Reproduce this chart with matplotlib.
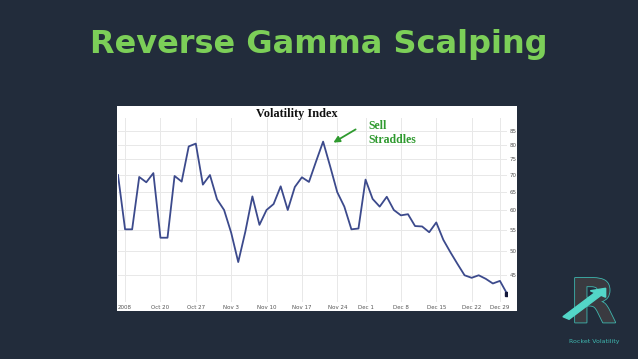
import numpy as np
import matplotlib
matplotlib.use('Agg')
import matplotlib.pyplot as plt
from matplotlib.patches import Rectangle, FancyArrow
import matplotlib.patheffects as pe

# trading days shown on the chart (Oct 10 -> Dec 30, 2008)
days = ['Oct 10', 'Oct 13', 'Oct 14', 'Oct 15', 'Oct 16', 'Oct 17',
        'Oct 20', 'Oct 21', 'Oct 22', 'Oct 23', 'Oct 24',
        'Oct 27', 'Oct 28', 'Oct 29', 'Oct 30', 'Oct 31',
        'Nov 3', 'Nov 4', 'Nov 5', 'Nov 6', 'Nov 7',
        'Nov 10', 'Nov 11', 'Nov 12', 'Nov 13', 'Nov 14',
        'Nov 17', 'Nov 18', 'Nov 19', 'Nov 20', 'Nov 21',
        'Nov 24', 'Nov 25', 'Nov 26', 'Nov 28',
        'Dec 1', 'Dec 2', 'Dec 3', 'Dec 4', 'Dec 5',
        'Dec 8', 'Dec 9', 'Dec 10', 'Dec 11', 'Dec 12',
        'Dec 15', 'Dec 16', 'Dec 17', 'Dec 18', 'Dec 19',
        'Dec 22', 'Dec 23', 'Dec 24', 'Dec 26',
        'Dec 29', 'Dec 30']
vix = [70.0, 55.1, 55.1, 69.4, 67.8, 70.6,
       53.1, 53.1, 69.7, 68.0, 79.4,
       80.4, 67.1, 70.0, 62.9, 60.0,
       54.3, 47.7, 54.5, 63.7, 56.2,
       60.0, 61.6, 66.6, 60.0, 66.4,
       69.3, 67.9, 74.3, 81.1, 72.7,
       64.9, 60.9, 55.1, 55.3,
       68.6, 63.0, 60.9, 63.6, 60.0,
       58.6, 58.9, 55.9, 55.8, 54.4,
       56.8, 52.6, 49.8, 47.3, 45.0,
       44.5, 45.0, 44.3, 43.4,
       43.9, 41.5]

tick_days = ['Oct 13', 'Oct 20', 'Oct 27', 'Nov 3', 'Nov 10', 'Nov 17',
             'Nov 24', 'Dec 1', 'Dec 8', 'Dec 15', 'Dec 22', 'Dec 29']
tick_labels = ['2008', 'Oct 20', 'Oct 27', 'Nov 3', 'Nov 10', 'Nov 17',
               'Nov 24', 'Dec 1', 'Dec 8', 'Dec 15', 'Dec 22', 'Dec 29']
y_ticks = [45, 50, 55, 60, 65, 70, 75, 80, 85]

W, H = 638, 359
bg = '#222c3b'
fig = plt.figure(figsize=(W / 100, H / 100), dpi=100, facecolor=bg)

def fx(px):
    return px / W

def fy(py):
    return 1 - py / H

# white panel behind the chart
fig.patches.append(Rectangle((fx(117), fy(311)), fx(517) - fx(117), fy(106) - fy(311),
                             transform=fig.transFigure, facecolor='white',
                             edgecolor='none', zorder=0))

fig.text(0.5, fy(45), 'Reverse Gamma Scalping', ha='center', va='center',
         color='#7ccf58', fontsize=23, fontweight='bold', family='DejaVu Sans')

ax = fig.add_axes([fx(118), fy(302), fx(507) - fx(118), fy(118) - fy(302)])
ax.set_zorder(2)
ax.set_facecolor('white')
xs = np.arange(len(days))
ax.plot(xs, vix, color='#3c4a8c', lw=1.3, zorder=3)
ax.plot(xs[-1], vix[-1], marker='s', ms=2.5, color='#15193a', zorder=4)

ax.set_yscale('log')
ax.set_ylim(40, 90)
ax.set_xlim(0, len(days) - 1)
ax.set_yticks(y_ticks)
ax.set_yticklabels([str(v) for v in y_ticks])
ax.yaxis.set_minor_locator(matplotlib.ticker.NullLocator())
ax.yaxis.tick_right()
ax.set_xticks([days.index(d) for d in tick_days])
ax.set_xticklabels(tick_labels)
ax.tick_params(axis='both', length=0, labelsize=4, labelcolor='#555555')
ax.tick_params(axis='y', pad=2)
ax.tick_params(axis='x', pad=2.5)
ax.grid(True, color='#e8e8e8', lw=0.7, zorder=0)
for s in ax.spines.values():
    s.set_visible(False)

fig.text(fx(297), fy(114), 'Volatility Index', ha='center', va='center',
         family='Liberation Serif', fontweight='bold', fontsize=8.8, color='#111111',
         zorder=5)
fig.text(fx(368), fy(133), 'Sell\nStraddles', ha='left', va='center',
         family='Liberation Serif', fontweight='bold', fontsize=8.5,
         color='#2f9a2f', linespacing=1.25, zorder=5)
ax.annotate('', xy=(fx(331), fy(144)), xytext=(fx(358), fy(128)),
            xycoords='figure fraction', textcoords='figure fraction',
            annotation_clip=False,
            arrowprops=dict(arrowstyle='-|>', color='#2f9a2f', lw=1.3,
                            mutation_scale=9))

# logo in the lower right corner
fig.text(fx(593), fy(306), 'R', ha='center', va='center', fontsize=44,
         fontweight='bold', family='DejaVu Sans', color='#3a3a40',
         path_effects=[pe.withStroke(linewidth=1.2, foreground='#3fb8b0')])
fig.patches.append(FancyArrow(fx(566), fy(318), fx(598) - fx(566), fy(294) - fy(318),
                              width=0.012, head_width=0.03, head_length=0.02,
                              transform=fig.transFigure, color='#53d6c8', zorder=5))
fig.text(fx(594), fy(342), 'Rocket Volatility', ha='center', va='center',
         fontsize=4.5, color='#3fb8b0')

fig.savefig('out.png', dpi=100, facecolor=bg)
